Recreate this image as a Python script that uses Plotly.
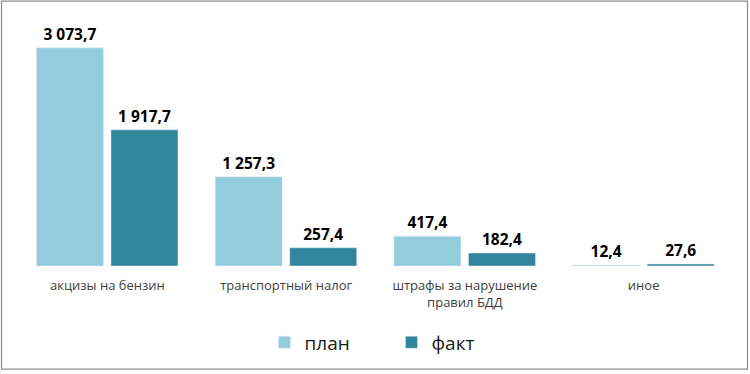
import plotly.graph_objects as go

categories = ["акцизы на бензин", "транспортный налог", "штрафы за нарушение<br>правил БДД", "иное"]
plan = [3073.7, 1257.3, 417.4, 12.4]
fact = [1917.7, 257.4, 182.4, 27.6]
series_names = ["план", "факт"]

W, H = 750, 374
ml, mr, mt, mb = 17.5, 16.5, 21, 106
pw, ph = W - ml - mr, H - mt - mb
ymax = 3073.7 * ph / 220.0

label_font = dict(family="Open Sans", size=15.5, color="#000000", weight="bold")
fig = go.Figure()
fig.add_bar(x=categories, y=plan, name=series_names[0], marker_color="#93CDDD",
            width=0.375, offset=-0.397,
            texttemplate="%{y:,.1f}", textposition="outside", cliponaxis=False,
            textfont=label_font)
fig.add_bar(x=categories, y=fact, name=series_names[1], marker_color="#31859C",
            width=0.375, offset=0.02,
            texttemplate="%{y:,.1f}", textposition="outside", cliponaxis=False,
            textfont=label_font)

fig.update_layout(
    width=W, height=H, margin=dict(l=ml, r=mr, t=mt, b=mb, pad=0),
    paper_bgcolor="white", plot_bgcolor="white",
    separators=", ",
    barmode="group", showlegend=True,
    font=dict(family="Open Sans", color="#404040"),
    xaxis=dict(range=[-0.5, 3.5], showgrid=False, showline=False, zeroline=False,
               ticks="", tickfont=dict(size=13, color="#404040"), ticklabelstandoff=10),
    yaxis=dict(range=[0, ymax], visible=False),
    legend=dict(orientation="h", x=0.5 + 16 / pw, xanchor="center", y=(0 - 77) / ph, yanchor="middle",
                font=dict(size=19, color="#1a1a1a"), entrywidth=82, entrywidthmode="pixels"),
    shapes=[dict(type="rect", xref="paper", yref="paper",
                 x0=-(ml - 1) / pw, x1=1 + (mr - 2) / pw,
                 y0=-(mb - 2) / ph, y1=1 + (mt - 1) / ph,
                 line=dict(color="#8c8c8c", width=1.2))],
)
fig.write_html("out.html", config={"displayModeBar": False},
               post_script="document.body.style.margin='0';document.body.style.overflow='hidden';")
